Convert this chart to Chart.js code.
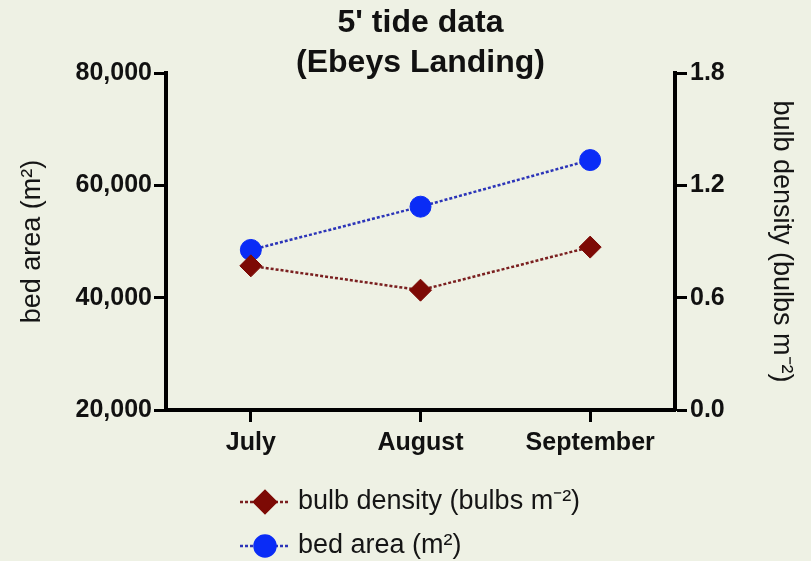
<!DOCTYPE html>
<html>
<head>
<meta charset="utf-8">
<script src="https://cdn.jsdelivr.net/npm/chart.js@4/dist/chart.umd.min.js"></script>
<style>
  html, body { margin: 0; padding: 0; background: #eef1e4; }
  #wrap { width: 811px; height: 561px; }
</style>
</head>
<body>
<div id="wrap"><canvas id="c" width="811" height="561"></canvas></div>
<script>
const months = ['July', 'August', 'September'];
const bulbDensity = [0.77, 0.64, 0.87];
const bedArea = [48500, 56200, 64500];
const leftTicks = [20000, 40000, 60000, 80000];
const rightTicks = [0.0, 0.6, 1.2, 1.8];
const titleLines = ["5' tide data", '(Ebeys Landing)'];
const bulbLabel = 'bulb density (bulbs m\u207B\u00B2)';
const bedLabel = 'bed area (m\u00B2)';

const BG = '#eef1e4';
const FONT = "'Liberation Sans', Arial, sans-serif";

const bgPlugin = {
  id: 'bg',
  beforeDraw(chart) {
    const ctx = chart.ctx;
    ctx.save();
    ctx.fillStyle = BG;
    ctx.fillRect(0, 0, chart.width, chart.height);
    ctx.restore();
  }
};

const legendPlugin = {
  id: 'customLegend',
  afterDraw(chart) {
    const ctx = chart.ctx;
    const rows = [502, 546];
    chart.data.datasets.forEach((ds, i) => {
      const y = rows[i];
      ctx.save();
      ctx.strokeStyle = ds.borderColor;
      ctx.lineWidth = ds.borderWidth;
      ctx.setLineDash(ds.borderDash);
      ctx.beginPath();
      ctx.moveTo(240, y);
      ctx.lineTo(290, y);
      ctx.stroke();
      ctx.setLineDash([]);
      ctx.fillStyle = ds.pointBackgroundColor;
      ctx.strokeStyle = ds.pointBorderColor;
      Chart.helpers.drawPoint(ctx, {
        pointStyle: ds.pointStyle,
        radius: ds.pointRadius,
        rotation: 0,
        borderWidth: 1
      }, 265, y);
      ctx.fillStyle = '#151515';
      ctx.font = '27px ' + FONT;
      ctx.textBaseline = 'middle';
      ctx.textAlign = 'left';
      ctx.fillText(ds.label, 298, y);
      ctx.restore();
    });
  }
};

new Chart(document.getElementById('c'), {
  type: 'line',
  data: {
    labels: months,
    datasets: [
      {
        label: bulbLabel,
        data: bulbDensity,
        yAxisID: 'y1',
        borderColor: '#7a1f1f',
        borderWidth: 2.5,
        borderDash: [3, 2],
        pointStyle: 'rectRot',
        pointRadius: 11,
        pointHoverRadius: 11,
        pointBackgroundColor: '#7d0a05',
        pointBorderColor: '#7d0a05',
        pointBorderWidth: 1,
        fill: false,
        tension: 0
      },
      {
        label: bedLabel,
        data: bedArea,
        yAxisID: 'y',
        borderColor: '#2b34b8',
        borderWidth: 2.5,
        borderDash: [3, 2],
        pointStyle: 'circle',
        pointRadius: 10.5,
        pointHoverRadius: 10.5,
        pointBackgroundColor: '#0a2cf6',
        pointBorderColor: '#0a2cf6',
        pointBorderWidth: 1,
        fill: false,
        tension: 0
      }
    ]
  },
  options: {
    responsive: false,
    devicePixelRatio: 1,
    animation: false,
    events: [],
    layout: { padding: 0, autoPadding: false },
    plugins: {
      legend: { display: false },
      tooltip: { enabled: false },
      title: {
        display: true,
        text: titleLines,
        fullSize: false,
        color: '#111',
        font: { family: FONT, size: 32, weight: 'bold', lineHeight: 1.25 },
        padding: { top: 3, bottom: -10 }
      }
    },
    scales: {
      x: {
        type: 'category',
        offset: true,
        afterFit(s) { s.height = 151; },
        border: { display: true, color: '#000', width: 4 },
        grid: { drawOnChartArea: false, drawTicks: true, tickLength: 12, tickWidth: 3, tickColor: '#000', offset: false },
        ticks: { color: '#111', padding: 6, font: { family: FONT, size: 25, weight: 'bold' } }
      },
      y: {
        position: 'left',
        min: 20000,
        max: 80000,
        afterFit(s) { s.width = 166; },
        afterBuildTicks(s) { s.ticks = leftTicks.map(v => ({ value: v })); },
        border: { display: true, color: '#000', width: 4 },
        grid: { drawOnChartArea: false, drawTicks: true, tickLength: 12, tickWidth: 3, tickColor: '#000' },
        ticks: {
          color: '#111', padding: 2,
          font: { family: FONT, size: 25, weight: 'bold' },
          callback: v => v.toLocaleString('en-US')
        },
        title: {
          display: true, text: bedLabel, color: '#151515',
          font: { family: FONT, size: 27, weight: 'normal', lineHeight: 1.2 },
          padding: { top: 16, bottom: 0 }
        }
      },
      y1: {
        position: 'right',
        min: 0,
        max: 1.8,
        afterFit(s) { s.width = 136; },
        afterBuildTicks(s) { s.ticks = rightTicks.map(v => ({ value: v })); },
        border: { display: true, color: '#000', width: 4 },
        grid: { drawOnChartArea: false, drawTicks: true, tickLength: 12, tickWidth: 3, tickColor: '#000' },
        ticks: {
          color: '#111', padding: 3,
          font: { family: FONT, size: 25, weight: 'bold' },
          callback: v => Number(v).toFixed(1)
        },
        title: {
          display: true, text: bulbLabel, color: '#151515',
          font: { family: FONT, size: 27, weight: 'normal', lineHeight: 1.2 },
          padding: { top: 13, bottom: 0 }
        }
      }
    }
  },
  plugins: [bgPlugin, legendPlugin]
});
</script>
</body>
</html>
